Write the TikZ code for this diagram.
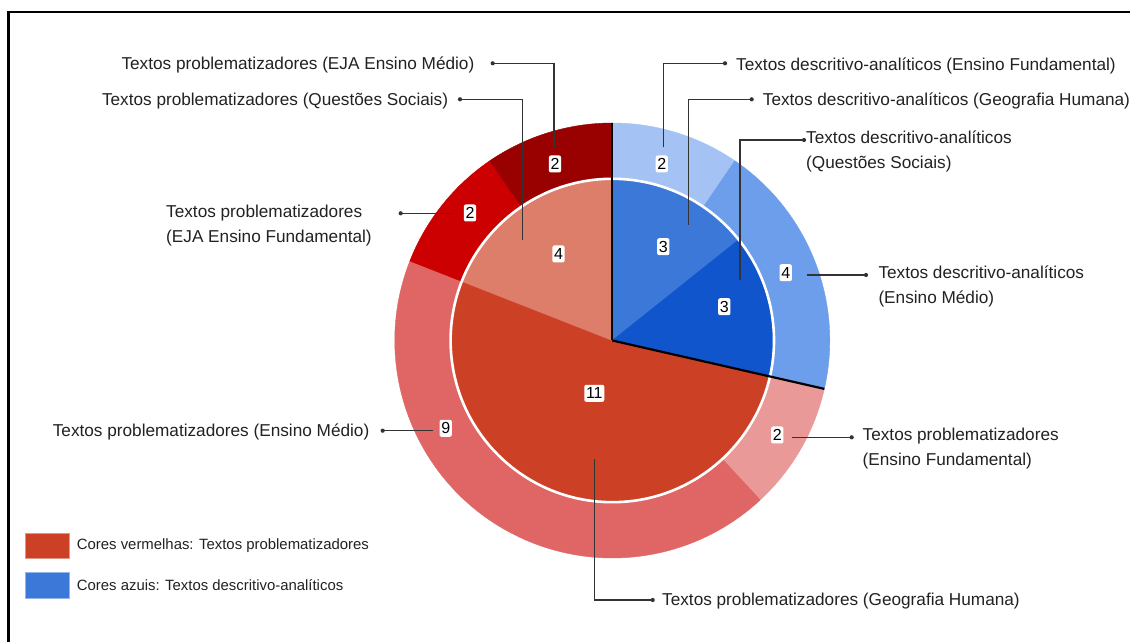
\documentclass[tikz,border=0pt]{standalone}
\usepackage{fontspec}
\setmainfont{Liberation Sans}
\definecolor{dred}{HTML}{990000}
\definecolor{redr}{HTML}{CC0000}
\definecolor{lred}{HTML}{E06666}
\definecolor{pinkr}{HTML}{EA9999}
\definecolor{ired}{HTML}{CC4125}
\definecolor{salmonr}{HTML}{DD7E6B}
\definecolor{lblue}{HTML}{A4C2F4}
\definecolor{mblue}{HTML}{6D9EEB}
\definecolor{iblue}{HTML}{3C78D8}
\definecolor{dblue}{HTML}{1155CC}
\definecolor{txt}{HTML}{222222}
\definecolor{lead}{HTML}{333333}
\newcommand{\mywedge}[4]{\fill[#1,draw=#1,line width=0.4pt] (C) -- ++(#2:#4) arc[start angle=#2, end angle=#3, radius=#4] -- cycle;}
\def\pieOuter{217.5pt}
\def\pieInner{161.7pt}
\begin{document}
\begin{tikzpicture}[x=1pt,y=1pt,
  lbl/.style={inner sep=0pt, text=txt, font=\fontsize{17.2}{25}\selectfont},
  leg/.style={inner sep=0pt, text=txt, font=\fontsize{14.9}{18}\selectfont},
  numbox/.style={fill=white, rounded corners=2pt, inner xsep=1.7pt, inner ysep=0pt, minimum height=17pt, text=black, font=\fontsize{16}{16}\selectfont},
  leader/.style={draw=lead, line width=1.1pt},
  legbox/.style={minimum width=44pt, minimum height=25.5pt, inner sep=0pt, line width=0.8pt}]
\useasboundingbox (0,0) rectangle (1130,642);
\fill[white] (0,0) rectangle (1130,642);
% frame
\draw[black, line width=2.8pt] (1130,630) -- (8.5,630) -- (8.5,0);
% pie
\coordinate (C) at (612.3,301.5);
\mywedge{lblue}{55.714}{90}{\pieOuter}
\mywedge{mblue}{-12.857}{55.714}{\pieOuter}
\mywedge{pinkr}{-47.143}{-12.857}{\pieOuter}
\mywedge{lred}{158.571}{312.857}{\pieOuter}
\mywedge{redr}{124.286}{158.571}{\pieOuter}
\mywedge{dred}{90}{124.286}{\pieOuter}
\mywedge{iblue}{38.571}{90}{\pieInner}
\mywedge{dblue}{-12.857}{38.571}{\pieInner}
\mywedge{ired}{158.571}{347.143}{\pieInner}
\mywedge{salmonr}{90}{158.571}{\pieInner}
\draw[white, line width=2.6pt] (C) circle[radius=\pieInner];
\draw[black, line width=2.2pt] (C) -- ++(90:\pieOuter);
\draw[black, line width=2.2pt] (C) -- ++(-12.857:\pieOuter);
% labels
\node[lbl, anchor=base east] (tEJAm) at (474.5,572.5) {Textos problematizadores (EJA Ensino Médio)};
\node[lbl, anchor=base east] (tQSr) at (448.3,536.5) {Textos problematizadores (Questões Sociais)};
\node[lbl, anchor=west, align=left] (tEJAf) at (166,416) {Textos problematizadores\\(EJA Ensino Fundamental)};
\node[lbl, anchor=base east] (tMedR) at (369.5,205.5) {Textos problematizadores (Ensino Médio)};
\node[lbl, anchor=base west] (tGeoR) at (662,36) {Textos problematizadores (Geografia Humana)};
\node[lbl, anchor=west, align=left] (tFundR) at (862.5,193.9) {Textos problematizadores\\(Ensino Fundamental)};
\node[lbl, anchor=base west] (tFundB) at (736,571.5) {Textos descritivo-analíticos (Ensino Fundamental)};
\node[lbl, anchor=base west] (tGeoB) at (762.7,536) {Textos descritivo-analíticos (Geografia Humana)};
\node[lbl, anchor=west, align=left] (tQSb) at (806,491) {Textos descritivo-analíticos\\(Questões Sociais)};
\node[lbl, anchor=west, align=left] (tMedB) at (878.3,355.5) {Textos descritivo-analíticos\\(Ensino Médio)};
% leader coordinates
\coordinate (dEJAm) at (492.7,578.7);  \coordinate (eEJAm) at (554,493.7);
\coordinate (dQSr) at (460,542.7);     \coordinate (eQSr) at (522.7,402);
\coordinate (dEJAf) at (400.7,428.7);  \coordinate (eEJAf) at (452.7,428.7);
\coordinate (dMedR) at (382.7,211.3);  \coordinate (eMedR) at (433.3,211.3);
\coordinate (dGeoR) at (652.7,42);     \coordinate (eGeoR) at (594.3,182.7);
\coordinate (dFundR) at (851.7,204.7); \coordinate (eFundR) at (791.7,204.7);
\coordinate (dFundB) at (725,578.7);   \coordinate (eFundB) at (663.3,494.7);
\coordinate (dGeoB) at (751.7,542.7);  \coordinate (eGeoB) at (688.3,417);
\coordinate (dQSb) at (804,502);       \coordinate (eQSb) at (740,362);
\coordinate (dMedB) at (866,367);      \coordinate (eMedB) at (806.7,367);
\draw[leader] (dEJAm) -| (eEJAm);
\draw[leader] (dQSr) -| (eQSr);
\draw[leader] (dEJAf) -- (eEJAf);
\draw[leader] (dMedR) -- (eMedR);
\draw[leader] (eGeoR) |- (dGeoR);
\draw[leader] (eFundR) -- (dFundR);
\draw[leader] (eFundB) |- (dFundB);
\draw[leader] (eGeoB) |- (dGeoB);
\draw[leader] (eQSb) |- (dQSb);
\draw[leader] (eMedB) -- (dMedB);
\foreach \d in {dEJAm,dQSr,dEJAf,dMedR,dGeoR,dFundR,dFundB,dGeoB,dQSb,dMedB}
  \fill[lead] (\d) circle[radius=2.1pt];
% value boxes
\node[numbox] (b1) at (555,478) {2};
\node[numbox] (b2) at (470,429) {2};
\node[numbox] (b3) at (558.5,388) {4};
\node[numbox] (b4) at (661.7,478) {2};
\node[numbox] (b5) at (663.3,395.3) {3};
\node[numbox] (b6) at (724.3,335.3) {3};
\node[numbox] (b7) at (785.7,369.3) {4};
\node[numbox] (b8) at (594.3,248.7) {11};
\node[numbox] (b9) at (445.7,213.7) {9};
\node[numbox] (b10) at (777.3,207) {2};
% legend
\node[legbox, fill=ired, draw=ired!55!white] (lgR) at (47.2,96.2) {};
\node[legbox, fill=iblue, draw=iblue!55!white] (lgB) at (47.2,56.5) {};
\node[leg, anchor=base west] (lgRt) at (76.7,92) {Cores vermelhas: Textos problematizadores};
\node[leg, anchor=base west] (lgBt) at (76.7,51.4) {Cores azuis: Textos descritivo-analíticos};
\end{tikzpicture}
\end{document}
